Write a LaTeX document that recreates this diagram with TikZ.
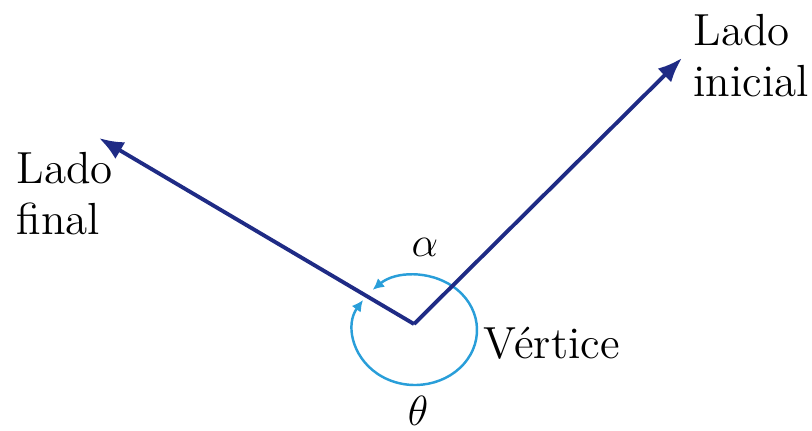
\documentclass[tikz,border=0pt]{standalone}
\usepackage{amssymb,amsmath}
\usepackage{color}
\usetikzlibrary{positioning}
\usetikzlibrary{arrows.meta}
\definecolor{mnavy}{rgb}{0.12, 0.17, 0.52}
\definecolor{mcyan}{rgb}{0.16, 0.62, 0.85}
\tikzset{side/.style = {draw=mnavy, line width=1.1pt,
                        -{Latex[length=7pt,width=5.5pt]}}}
\tikzset{turn/.style = {draw=mcyan, line width=0.7pt,
                        -{Latex[length=3.2pt,width=3.2pt]}}}
\tikzset{lbl/.style = {inner sep=0, align=left,
                       font=\fontsize{12.8}{14.3}\selectfont}}

\begin{document}
\begin{tikzpicture}
        \useasboundingbox (-4.14,-1.06) rectangle (3.98,3.24);
        \coordinate (V) at (0,0);
        \coordinate (C) at (0.01,-0.06);
        \coordinate (ini) at (2.68,2.66);
        \coordinate (fin) at (-3.15,1.86);
        % arcs
        \draw[turn] (C) ++(52:0.62 and 0.55)
          arc[start angle=52, end angle=133, x radius=0.62, y radius=0.55];
        \draw[turn] (C) ++(52:0.62 and 0.55)
          arc[start angle=52, end angle=-213, x radius=0.62, y radius=0.55];
        % sides
        \draw[side] (V) -- (ini);
        \draw[side] (V) -- (fin);
        \node[lbl, anchor=north west] (li) at (2.79,3.10) {Lado\\inicial};
        \node[lbl, anchor=north west] (lf) at (-3.98,1.72) {Lado\\final};
        \node[lbl, anchor=base west] (vt) at (0.69,-0.34) {V\'ertice};
        \node[lbl] (al) at (0.11,0.77) {$\alpha$};
        \node[lbl] (th) at (0.04,-0.87) {$\theta$};
      \end{tikzpicture}
\end{document}
